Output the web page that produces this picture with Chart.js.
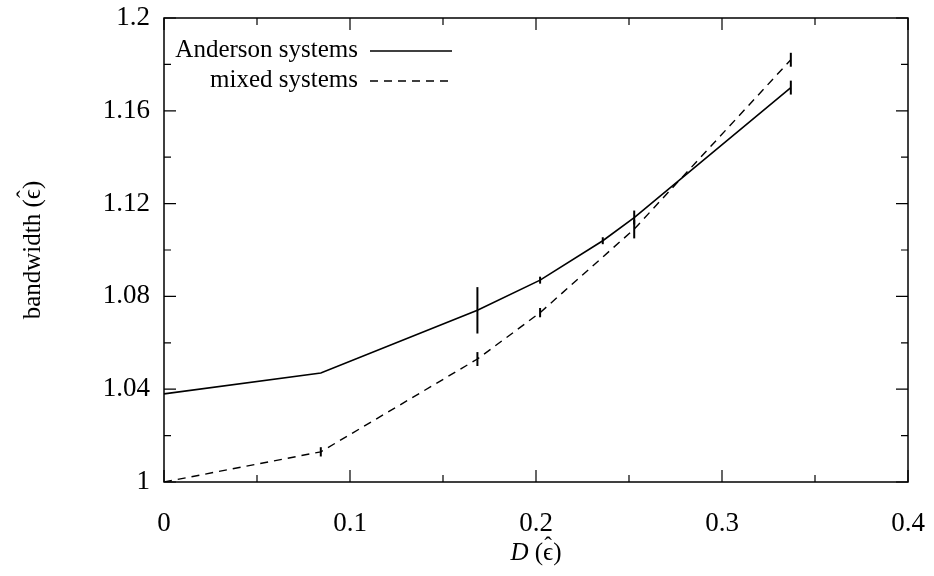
<!DOCTYPE html>
<html>
<head>
<meta charset="utf-8">
<script src="https://cdn.jsdelivr.net/npm/chart.js@4/dist/chart.umd.min.js"></script>
<style>
  html, body { margin: 0; padding: 0; background: #fff; }
  #wrap { width: 934px; height: 576px; }
</style>
</head>
<body>
<div id="wrap"><canvas id="c" width="934" height="576"></canvas></div>
<script>
// data
const andersonX   = [0, 0.0843, 0.1685, 0.2022, 0.2359, 0.2528, 0.337];
const andersonY   = [1.038, 1.047, 1.074, 1.087, 1.104, 1.114, 1.170];
const andersonErr = [0, 0, 0.010, 0.0015, 0.0015, 0.003, 0.003];

const mixedX   = [0, 0.0843, 0.1685, 0.2022, 0.2528, 0.337];
const mixedY   = [1.000, 1.013, 1.053, 1.073, 1.109, 1.182];
const mixedErr = [0, 0.002, 0.003, 0.002, 0.004, 0.003];

const xTicks = [0, 0.1, 0.2, 0.3, 0.4];
const yTicks = [1, 1.04, 1.08, 1.12, 1.16, 1.2];

const FONT = 'Liberation Serif';
const FS = 25;
const TICK_FS = 27;

function pts(xs, ys) { return xs.map((x, i) => ({ x: x, y: ys[i] })); }
function minors(t) {
    const out = [];
    for (let i = 0; i < t.length - 1; i++) out.push((t[i] + t[i + 1]) / 2);
    return out;
}
function font(style) { return (style ? style + ' ' : '') + FS + 'px "' + FONT + '"'; }

// writes "(ϵ̂)" at x (left aligned, middle baseline), returns the end x
function hatEps(ctx, x, y) {
    ctx.font = font();
    ctx.textAlign = 'left';
    ctx.fillText('(', x, y);
    x += ctx.measureText('(').width;
    ctx.fillText('\u03F5', x, y);
    const we = ctx.measureText('\u03F5').width;
    ctx.font = Math.round(FS * 0.9) + 'px "' + FONT + '"';
    ctx.textAlign = 'center';
    ctx.fillText('\u02C6', x + we / 2, y - 6);
    x += we;
    ctx.font = font();
    ctx.textAlign = 'left';
    ctx.fillText(')', x, y);
    return x + ctx.measureText(')').width;
}

// inner ticks on all four sides + frame (gnuplot look)
const framePlugin = {
    id: 'frame',
    afterDraw(chart) {
        const { ctx, chartArea: a, scales } = chart;
        ctx.save();
        ctx.strokeStyle = '#000';
        ctx.lineWidth = 1.5;
        ctx.strokeRect(a.left, a.top, a.right - a.left, a.bottom - a.top);
        const tick = (v, len, horiz) => {
            if (horiz) {
                const px = scales.x.getPixelForValue(v);
                ctx.beginPath();
                ctx.moveTo(px, a.bottom); ctx.lineTo(px, a.bottom - len);
                ctx.moveTo(px, a.top);    ctx.lineTo(px, a.top + len);
                ctx.stroke();
            } else {
                const py = scales.y.getPixelForValue(v);
                ctx.beginPath();
                ctx.moveTo(a.left, py);  ctx.lineTo(a.left + len, py);
                ctx.moveTo(a.right, py); ctx.lineTo(a.right - len, py);
                ctx.stroke();
            }
        };
        ctx.lineWidth = 1.2;
        xTicks.forEach(v => tick(v, 12, true));
        minors(xTicks).forEach(v => tick(v, 7, true));
        yTicks.forEach(v => tick(v, 12, false));
        minors(yTicks).forEach(v => tick(v, 7, false));
        ctx.restore();
    }
};

// vertical error bars
const errorPlugin = {
    id: 'errbars',
    afterDatasetsDraw(chart) {
        const { ctx, scales } = chart;
        ctx.save();
        ctx.strokeStyle = '#000';
        ctx.setLineDash([]);
        ctx.lineWidth = 2;
        chart.data.datasets.forEach(ds => {
            ds.data.forEach((p, i) => {
                const e = ds.err[i];
                if (!e) return;
                const px = scales.x.getPixelForValue(p.x);
                ctx.beginPath();
                ctx.moveTo(px, scales.y.getPixelForValue(p.y - e));
                ctx.lineTo(px, scales.y.getPixelForValue(p.y + e));
                ctx.stroke();
            });
        });
        ctx.restore();
    }
};

// legend: text right-aligned, then the line sample; plus axis titles
const textPlugin = {
    id: 'texts',
    afterDraw(chart) {
        const { ctx, chartArea: a } = chart;
        ctx.save();
        ctx.fillStyle = '#000';
        ctx.strokeStyle = '#000';
        ctx.font = font();
        ctx.textBaseline = 'middle';
        chart.data.datasets.forEach((ds, i) => {
            const y = 50 + i * 30;
            ctx.textAlign = 'right';
            ctx.fillText(ds.label, 358, y);
            ctx.lineWidth = ds.borderWidth;
            ctx.setLineDash(ds.borderDash || []);
            ctx.beginPath();
            ctx.moveTo(370, y + 1);
            ctx.lineTo(452, y + 1);
            ctx.stroke();
        });
        ctx.setLineDash([]);

        // x title: italic D then (ϵ̂)
        const cx = (a.left + a.right) / 2;
        ctx.font = font('italic');
        const wD = ctx.measureText('D ').width;
        ctx.font = font();
        const wR = ctx.measureText('(\u03F5)').width;
        const x0 = cx - (wD + wR) / 2;
        ctx.textAlign = 'left';
        ctx.font = font('italic');
        ctx.fillText('D', x0, 553);
        hatEps(ctx, x0 + wD, 553);

        // y title
        ctx.translate(33, (a.top + a.bottom) / 2);
        ctx.rotate(-Math.PI / 2);
        ctx.font = font();
        const wb = ctx.measureText('bandwidth ').width;
        const tot = wb + wR;
        ctx.textAlign = 'left';
        ctx.fillText('bandwidth ', -tot / 2, 0);
        hatEps(ctx, -tot / 2 + wb, 0);
        ctx.restore();
    }
};

new Chart(document.getElementById('c'), {
    type: 'line',
    data: {
        datasets: [
            {
                label: 'Anderson systems',
                data: pts(andersonX, andersonY),
                err: andersonErr,
                borderColor: '#000',
                borderWidth: 1.6,
                pointRadius: 0,
                tension: 0,
                fill: false
            },
            {
                label: 'mixed systems',
                data: pts(mixedX, mixedY),
                err: mixedErr,
                borderColor: '#000',
                borderWidth: 1.4,
                borderDash: [8, 6],
                pointRadius: 0,
                tension: 0,
                fill: false
            }
        ]
    },
    options: {
        responsive: false,
        animation: false,
        devicePixelRatio: 1,
        layout: { padding: { left: 10, top: 18, right: 26, bottom: 0 } },
        plugins: { legend: { display: false }, tooltip: { enabled: false } },
        scales: {
            x: {
                type: 'linear',
                min: 0, max: 0.4,
                afterBuildTicks(s) { s.ticks = xTicks.map(v => ({ value: v })); },
                afterFit(s) { s.height = 94; s.paddingLeft = 0; s.paddingRight = 0; },
                grid: { display: false, drawTicks: false },
                border: { display: false },
                ticks: {
                    padding: 26,
                    maxRotation: 0,
                    color: '#000',
                    font: { family: FONT, size: TICK_FS },
                    callback: v => String(parseFloat(v.toFixed(2)))
                }
            },
            y: {
                type: 'linear',
                min: 1, max: 1.2,
                afterBuildTicks(s) { s.ticks = yTicks.map(v => ({ value: v })); },
                afterFit(s) { s.width = 154; s.paddingTop = 0; s.paddingBottom = 0; },
                grid: { display: false, drawTicks: false },
                border: { display: false },
                ticks: {
                    padding: 14,
                    color: '#000',
                    font: { family: FONT, size: TICK_FS },
                    callback: v => String(parseFloat(v.toFixed(2)))
                }
            }
        }
    },
    plugins: [framePlugin, errorPlugin, textPlugin]
});
</script>
</body>
</html>
